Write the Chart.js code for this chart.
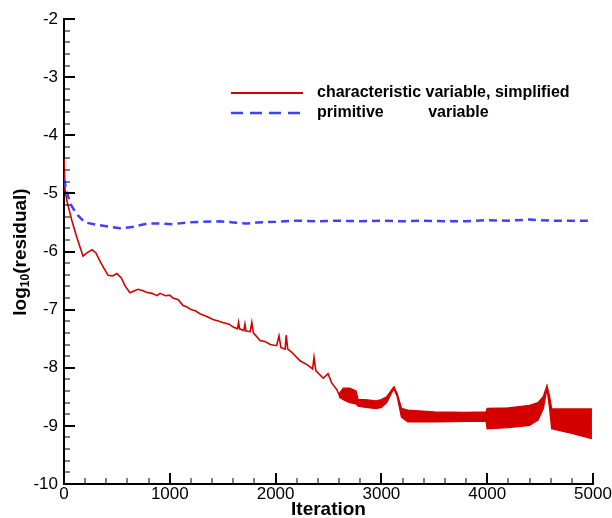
<!DOCTYPE html>
<html><head><meta charset="utf-8">
<script src="https://cdn.jsdelivr.net/npm/chart.js@4/dist/chart.umd.min.js"></script>
<style>html,body{margin:0;padding:0;background:#fff;}#wrap{width:612px;height:518px;}</style>
</head><body><div id="wrap"><canvas id="c" width="612" height="518"></canvas></div>
<script>
// ---- data ----
const xTickValues = [0, 1000, 2000, 3000, 4000, 5000];
const yTickValues = [-10, -9, -8, -7, -6, -5, -4, -3, -2];
const xTitle = 'Iteration';
const legendLabels = ['characteristic variable, simplified', 'primitive          variable'];

// red: characteristic variable, simplified (smooth part)
const redX = [0, 10, 30, 75, 120, 180, 220, 265, 300, 350, 416, 460, 500, 540, 580, 624, 660, 700, 740, 780, 830, 880, 907, 960, 1000, 1030, 1080, 1125, 1160, 1200, 1240, 1285, 1350, 1408, 1450, 1500, 1560, 1600, 1640, 1650, 1660, 1700, 1710, 1720, 1760, 1775, 1790, 1853, 1900, 1950, 2010, 2032, 2050, 2090, 2100, 2115, 2150, 2231, 2300, 2350, 2363, 2380, 2450, 2495, 2530, 2580, 2609];
const redY = [-4.4, -4.95, -5.15, -5.47, -5.75, -6.08, -6.02, -5.97, -6.02, -6.2, -6.41, -6.42, -6.38, -6.45, -6.6, -6.71, -6.68, -6.65, -6.67, -6.7, -6.72, -6.76, -6.72, -6.76, -6.75, -6.8, -6.83, -6.93, -6.95, -7.0, -7.02, -7.07, -7.12, -7.17, -7.19, -7.22, -7.25, -7.3, -7.33, -7.22, -7.33, -7.36, -7.25, -7.37, -7.38, -7.22, -7.4, -7.53, -7.55, -7.6, -7.62, -7.45, -7.65, -7.68, -7.44, -7.68, -7.73, -7.88, -7.95, -8.02, -7.82, -8.05, -8.18, -8.1, -8.26, -8.38, -8.5];

// red: oscillating part, upper and lower envelopes
const bandX     = [2600, 2640, 2700, 2760, 2780, 2850, 2950, 3000, 3050, 3090, 3119, 3150, 3190, 3250, 3500, 3800, 3990, 4000, 4200, 4400, 4480, 4530, 4565, 4590, 4610, 4800, 4990];
const bandUpper = [-8.45, -8.35, -8.35, -8.4, -8.55, -8.55, -8.57, -8.55, -8.5, -8.4, -8.33, -8.45, -8.7, -8.73, -8.76, -8.77, -8.76, -8.7, -8.69, -8.65, -8.6, -8.5, -8.31, -8.5, -8.71, -8.71, -8.71];
const bandLower = [-8.5, -8.55, -8.6, -8.62, -8.66, -8.68, -8.7, -8.68, -8.6, -8.45, -8.36, -8.5, -8.85, -8.93, -8.93, -8.92, -8.92, -9.05, -9.03, -8.99, -8.9, -8.7, -8.35, -8.7, -9.05, -9.13, -9.22];

// blue: primitive variable
const blueX = [0, 20, 57, 100, 132, 198, 340, 450, 530, 643, 785, 900, 1030, 1162, 1300, 1474, 1600, 1730, 1824, 2000, 2200, 2400, 2600, 2800, 3000, 3200, 3400, 3600, 3800, 4000, 4200, 4400, 4600, 4800, 5000];
const blueY = [-4.75, -4.92, -5.17, -5.3, -5.38, -5.5, -5.55, -5.58, -5.6, -5.58, -5.52, -5.52, -5.53, -5.5, -5.49, -5.48, -5.5, -5.52, -5.5, -5.49, -5.47, -5.48, -5.47, -5.48, -5.47, -5.48, -5.47, -5.48, -5.48, -5.46, -5.47, -5.45, -5.47, -5.47, -5.47];

// ---- styles ----
const RED = 'rgb(212,0,0)';
const BLUE = 'rgb(64,64,255)';
const FONT = '"Liberation Sans", Arial, Helvetica, sans-serif';

const pts = (xs, ys) => xs.map((x, i) => ({x: x, y: ys[i]}));

const decorPlugin = {
  id: 'decor',
  afterDraw(chart) {
    const ctx = chart.ctx, ca = chart.chartArea;
    const xs = chart.scales.x, ys = chart.scales.y;
    ctx.save();
    ctx.strokeStyle = '#000';
    for (let k = 0; k <= 40; k++) {
      const v = -10 + k * 0.2;
      const major = k % 5 === 0;
      const py = Math.round(ys.getPixelForValue(v));
      ctx.lineWidth = major ? 2 : 1;
      ctx.beginPath();
      ctx.moveTo(ca.left, py);
      ctx.lineTo(ca.left + (major ? 11 : 6), py);
      ctx.stroke();
    }
    for (let k = 0; k <= 25; k++) {
      const v = k * 200;
      const major = k % 5 === 0;
      const px = Math.round(xs.getPixelForValue(v));
      ctx.lineWidth = major ? 2 : 1;
      ctx.beginPath();
      ctx.moveTo(px, ca.bottom);
      ctx.lineTo(px, ca.bottom - (major ? 11 : 6));
      ctx.stroke();
    }
    ctx.fillStyle = '#000';
    ctx.font = 'bold 19px ' + FONT;
    ctx.textAlign = 'center';
    ctx.textBaseline = 'middle';
    ctx.fillText(xTitle, (ca.left + ca.right) / 2, 510);
    ctx.save();
    ctx.translate(21, 252);
    ctx.rotate(-Math.PI / 2);
    ctx.textAlign = 'left';
    ctx.textBaseline = 'middle';
    const big = 'bold 19px ' + FONT, small = 'bold 12px ' + FONT;
    ctx.font = big; const w1 = ctx.measureText('log').width;
    ctx.font = small; const w2 = ctx.measureText('10').width;
    ctx.font = big; const w3 = ctx.measureText('(residual)').width;
    let x0 = -(w1 + w2 + w3) / 2;
    ctx.font = big; ctx.fillText('log', x0, 0);
    ctx.font = small; ctx.fillText('10', x0 + w1, 5);
    ctx.font = big; ctx.fillText('(residual)', x0 + w1 + w2, 0);
    ctx.restore();
    ctx.font = 'bold 16px ' + FONT;
    ctx.textAlign = 'left';
    ctx.textBaseline = 'middle';
    ctx.lineWidth = 2;
    ctx.strokeStyle = RED;
    ctx.beginPath(); ctx.moveTo(231, 93); ctx.lineTo(303, 93); ctx.stroke();
    ctx.fillStyle = '#000';
    ctx.fillText(legendLabels[0], 317, 93);
    ctx.strokeStyle = BLUE;
    ctx.lineWidth = 2.5;
    ctx.setLineDash([12, 7]);
    ctx.beginPath(); ctx.moveTo(231, 113); ctx.lineTo(300, 113); ctx.stroke();
    ctx.setLineDash([]);
    ctx.fillText(legendLabels[1], 317, 113);
    ctx.restore();
  }
};

new Chart(document.getElementById('c'), {
  type: 'line',
  data: {
    datasets: [
      {data: pts(blueX, blueY), borderColor: BLUE, borderWidth: 2.5, borderDash: [8, 5], pointRadius: 0, fill: false, tension: 0},
      {data: pts(redX, redY), borderColor: RED, borderWidth: 1.6, pointRadius: 0, fill: false, tension: 0},
      {data: pts(bandX, bandUpper), borderColor: RED, borderWidth: 1.4, pointRadius: 0, fill: false, tension: 0},
      {data: pts(bandX, bandLower), borderColor: RED, borderWidth: 1.4, pointRadius: 0, fill: '-1', backgroundColor: RED, tension: 0}
    ]
  },
  options: {
    responsive: false,
    animation: false,
    devicePixelRatio: 1,
    layout: {padding: {left: 0, right: 19, top: 19, bottom: 0}},
    plugins: {legend: {display: false}, tooltip: {enabled: false}},
    scales: {
      x: {
        type: 'linear', min: 0, max: 5000,
        afterBuildTicks: s => { s.ticks = xTickValues.map(v => ({value: v})); },
        afterFit: s => { s.height = 34; },
        ticks: {color: '#000', font: {family: FONT, size: 17}, padding: 0, maxRotation: 0, autoSkip: false, callback: v => String(v)},
        grid: {display: false, drawTicks: false},
        border: {display: true, color: '#000', width: 2}
      },
      y: {
        type: 'linear', min: -10, max: -2,
        afterBuildTicks: s => { s.ticks = yTickValues.map(v => ({value: v})); },
        afterFit: s => { s.width = 64; },
        ticks: {color: '#000', font: {family: FONT, size: 17}, padding: 6, autoSkip: false, callback: v => String(v)},
        grid: {display: false, drawTicks: false},
        border: {display: true, color: '#000', width: 2}
      }
    }
  },
  plugins: [decorPlugin]
});
</script></body></html>
